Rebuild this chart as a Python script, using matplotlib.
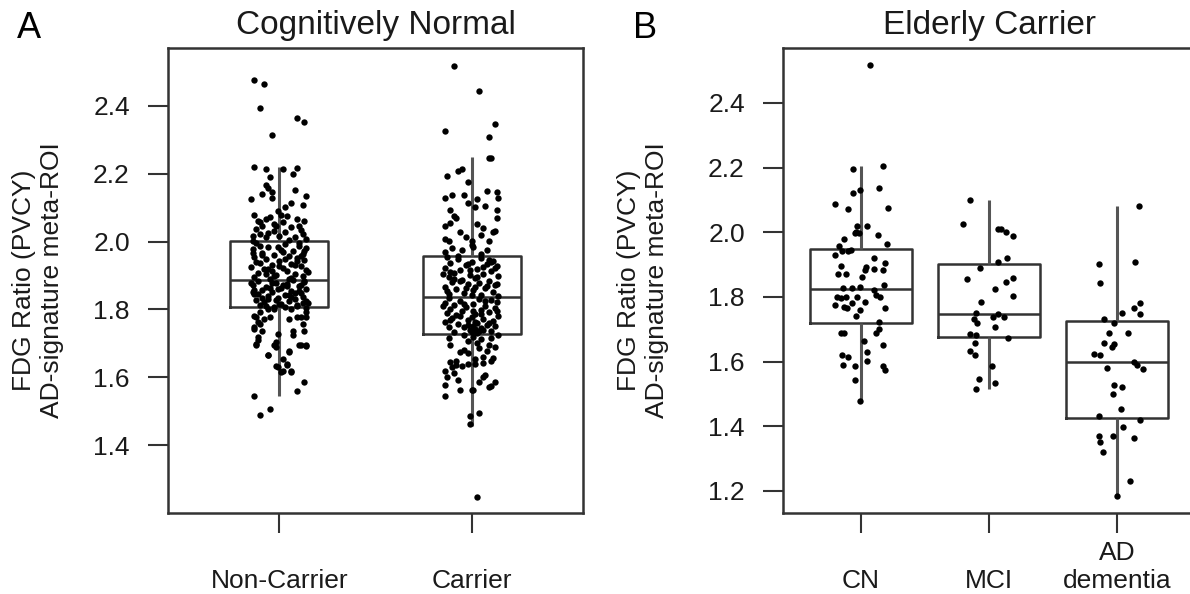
import matplotlib
matplotlib.use("Agg")
import matplotlib.pyplot as plt
import numpy as np

plt.rcParams['font.family'] = ['Liberation Sans', 'DejaVu Sans']
fontsize = 19
line_c = '#333333'
text_c = '#1a1a1a'

# ---------------- panel A: Cognitively Normal ----------------
groups_a = ['Non-Carrier', 'Carrier']
whislo_a = [1.545, 1.455]
q1_a = [1.806, 1.729]
med_a = [1.888, 1.838]
q3_a = [2.003, 1.959]
whishi_a = [2.219, 2.249]

# (jitter, value) pairs
nc_points = [
    (-0.13, 2.478), (-0.08, 2.466), (-0.10, 2.395), (0.09, 2.364), (0.13, 2.353), (-0.04, 2.313),
    (-0.05, 1.508), (-0.10, 1.488),
    (-0.13, 2.219), (-0.07, 2.213), (0.02, 2.214), (0.09, 2.217),
    (-0.13, 1.546), (0.09, 1.561), (0.13, 1.586),
    (0.07, 2.199), (-0.05, 2.191), (-0.07, 2.168), (-0.06, 2.158), (-0.09, 2.140), (-0.04, 2.145),
    (-0.15, 2.127), (0.08, 2.152), (0.14, 2.135), (0.12, 2.109), (-0.04, 2.130), (0.03, 2.101),
    (0.01, 2.079), (0.04, 2.076), (-0.13, 2.079), (-0.07, 2.067), (-0.09, 2.047), (-0.03, 2.052),
    (-0.03, 2.032), (-0.12, 2.037), (-0.14, 2.018), (0.06, 2.042), (0.10, 2.047), (0.12, 2.022),
    (-0.10, 2.022), (-0.07, 2.013), (0.00, 2.018), (0.08, 2.013), (-0.14, 2.003), (0.14, 2.008),
    (0.03, 2.027), (-0.10, 2.057), (-0.05, 2.072), (0.09, 2.067), (0.05, 2.005), (-0.02, 2.045),
    (0.11, 2.035), (-0.11, 2.062), (0.02, 2.058), (-0.06, 2.025), (0.13, 2.060), (-0.01, 2.090),
    (0.06, 2.115),
    (-0.12, 1.995), (0.03, 1.992), (0.10, 1.988), (-0.06, 1.985), (0.14, 1.981), (-0.14, 1.978),
    (0.01, 1.975), (0.07, 1.971), (-0.09, 1.968), (0.12, 1.965), (-0.03, 1.962), (0.05, 1.958),
    (-0.13, 1.955), (0.09, 1.952), (-0.07, 1.948), (0.13, 1.945), (0.00, 1.942), (-0.10, 1.938),
    (0.06, 1.935), (-0.04, 1.932), (0.11, 1.928), (-0.15, 1.925), (0.02, 1.922), (-0.08, 1.918),
    (0.14, 1.915), (0.04, 1.912), (-0.11, 1.908), (0.08, 1.905), (-0.02, 1.902), (0.12, 1.899),
    (-0.13, 1.896), (0.06, 1.893), (-0.05, 1.890), (0.10, 1.996), (-0.01, 1.983), (0.13, 1.973),
    (-0.09, 1.960), (0.03, 1.950), (-0.12, 1.940), (0.08, 1.930), (-0.06, 1.920), (0.15, 1.910),
    (-0.03, 1.900), (0.05, 1.891), (-0.14, 1.966), (0.11, 1.957), (0.00, 1.927), (-0.07, 1.906),
    (0.09, 1.944), (-0.10, 1.986), (0.02, 1.969), (-0.04, 1.914),
    (0.07, 1.886), (-0.11, 1.883), (0.13, 1.880), (-0.02, 1.878), (0.04, 1.875), (-0.14, 1.872),
    (0.10, 1.869), (-0.07, 1.866), (0.01, 1.863), (0.14, 1.860), (-0.09, 1.857), (0.06, 1.854),
    (-0.04, 1.851), (0.11, 1.848), (-0.13, 1.845), (0.03, 1.842), (-0.06, 1.839), (0.12, 1.836),
    (-0.01, 1.833), (0.08, 1.830), (-0.12, 1.827), (0.05, 1.824), (-0.08, 1.821), (0.15, 1.818),
    (0.00, 1.815), (-0.10, 1.812), (0.09, 1.809), (-0.03, 1.807), (0.13, 1.884), (-0.15, 1.877),
    (0.02, 1.871), (-0.05, 1.862), (0.10, 1.855), (-0.11, 1.846), (0.06, 1.838), (-0.02, 1.829),
    (0.12, 1.820), (-0.07, 1.811), (0.04, 1.868), (-0.13, 1.858), (0.08, 1.849), (-0.09, 1.834),
    (0.14, 1.826), (0.01, 1.817), (-0.04, 1.879), (0.11, 1.873), (-0.14, 1.852), (0.05, 1.843),
    (-0.06, 1.831), (0.09, 1.814), (-0.01, 1.859), (0.03, 1.808),
    (-0.02, 1.632), (0.02, 1.619), (0.06, 1.619), (0.04, 1.639), (-0.06, 1.666), (0.05, 1.679),
    (0.10, 1.694), (0.14, 1.696), (-0.03, 1.694), (-0.02, 1.704), (-0.12, 1.699), (-0.11, 1.709),
    (0.07, 1.738), (-0.13, 1.743), (-0.11, 1.762), (-0.08, 1.772), (0.05, 1.772), (0.11, 1.777),
    (0.14, 1.792), (-0.13, 1.782), (-0.10, 1.792), (-0.06, 1.801), (-0.03, 1.800), (0.06, 1.801),
    (0.14, 1.803), (-0.12, 1.777), (-0.10, 1.758), (-0.13, 1.748), (-0.09, 1.738), (-0.11, 1.719),
    (-0.12, 1.694), (0.09, 1.777), (0.12, 1.758), (0.14, 1.777), (0.13, 1.738), (0.07, 1.724),
    (-0.06, 1.665), (-0.02, 1.689), (0.05, 1.675), (0.02, 1.655), (0.04, 1.635), (-0.01, 1.630),
    (0.01, 1.616), (0.06, 1.616), (0.11, 1.694), (0.14, 1.691), (-0.01, 1.728), (-0.05, 1.777),
]

car_points = [
    (-0.09, 2.518), (0.04, 2.444), (0.12, 2.348), (-0.14, 2.326), (0.09, 2.309),
    (0.09, 2.248), (0.10, 2.246),
    (-0.05, 2.214), (-0.07, 2.207), (-0.13, 2.194), (-0.02, 2.177), (-0.14, 2.130), (-0.10, 2.138),
    (-0.04, 2.138), (0.08, 2.148), (0.13, 2.145), (0.14, 2.130), (0.03, 2.125), (0.02, 2.101),
    (0.07, 2.106), (0.13, 2.093), (-0.11, 2.093), (-0.09, 2.076), (-0.08, 2.071), (0.13, 2.071),
    (0.03, 2.052), (-0.14, 2.047), (-0.06, 2.027), (0.05, 2.021), (0.11, 2.027), (-0.14, 2.008),
    (-0.12, 2.003), (-0.03, 2.013), (0.00, 2.001), (0.09, 2.003), (0.12, 2.032), (-0.10, 1.981),
    (0.01, 1.983), (0.08, 1.975), (-0.05, 1.974), (-0.14, 1.969), (0.05, 1.964), (-0.02, 2.115),
    (0.06, 2.040), (-0.11, 2.055), (0.00, 1.990),
    (-0.13, 1.955), (0.05, 1.951), (-0.07, 1.948), (0.11, 1.944), (0.00, 1.941), (-0.11, 1.937),
    (0.08, 1.934), (-0.03, 1.930), (0.13, 1.927), (-0.14, 1.923), (0.03, 1.920), (-0.06, 1.916),
    (0.10, 1.913), (-0.09, 1.909), (0.06, 1.906), (-0.01, 1.902), (0.14, 1.899), (-0.12, 1.895),
    (0.02, 1.892), (-0.05, 1.888), (0.09, 1.885), (-0.10, 1.881), (0.04, 1.878), (-0.02, 1.874),
    (0.12, 1.871), (-0.14, 1.867), (0.07, 1.864), (-0.08, 1.860), (0.01, 1.857), (0.11, 1.853),
    (-0.04, 1.850), (-0.12, 1.846), (0.05, 1.843), (0.14, 1.840), (-0.07, 1.957), (0.09, 1.946),
    (-0.02, 1.935), (0.12, 1.921), (-0.11, 1.911), (0.03, 1.897), (-0.06, 1.883), (0.08, 1.869),
    (-0.13, 1.855), (0.00, 1.844), (0.06, 1.925), (-0.09, 1.890), (0.13, 1.876), (-0.03, 1.862),
    (0.10, 1.939), (-0.15, 1.904), (0.02, 1.866), (-0.01, 1.917),
    (-0.12, 1.835), (0.04, 1.832), (0.10, 1.829), (-0.06, 1.826), (0.13, 1.823), (-0.14, 1.820),
    (0.01, 1.817), (-0.09, 1.814), (0.07, 1.811), (-0.03, 1.808), (0.12, 1.805), (-0.11, 1.802),
    (0.05, 1.799), (-0.05, 1.796), (0.09, 1.793), (-0.13, 1.790), (0.02, 1.787), (-0.08, 1.784),
    (0.14, 1.781), (0.00, 1.778), (-0.10, 1.775), (0.06, 1.772), (-0.02, 1.769), (0.11, 1.766),
    (-0.14, 1.763), (0.03, 1.760), (-0.07, 1.757), (0.08, 1.754), (0.01, 1.751), (-0.12, 1.748),
    (0.05, 1.745), (0.02, 1.742), (-0.01, 1.739), (0.04, 1.736), (0.00, 1.733), (0.03, 1.731),
    (-0.04, 1.747), (0.06, 1.740), (-0.09, 1.733), (0.10, 1.737), (0.13, 1.795), (-0.15, 1.809),
    (0.07, 1.824), (-0.04, 1.815), (0.09, 1.760), (-0.11, 1.770), (0.01, 1.797), (-0.06, 1.781),
    (0.12, 1.752), (0.02, 1.764), (-0.02, 1.755), (0.05, 1.786),
    (-0.12, 1.716), (-0.11, 1.696), (0.10, 1.716), (0.14, 1.726), (0.09, 1.694), (-0.06, 1.676),
    (-0.04, 1.682), (-0.02, 1.672), (0.04, 1.686), (0.08, 1.678), (0.11, 1.658), (-0.11, 1.645),
    (-0.08, 1.636), (-0.05, 1.634), (-0.02, 1.639), (0.02, 1.640), (0.06, 1.643), (0.10, 1.648),
    (-0.14, 1.619), (-0.09, 1.614), (-0.07, 1.592), (0.06, 1.602), (0.07, 1.607), (-0.14, 1.577),
    (-0.06, 1.562), (0.10, 1.573), (0.09, 1.570), (0.04, 1.587), (0.00, 1.562), (0.01, 1.563),
    (-0.14, 1.545), (-0.01, 1.485), (0.04, 1.496), (-0.01, 1.461), (0.01, 1.719), (-0.02, 1.708),
    (0.03, 1.700), (0.05, 1.712), (-0.04, 1.725), (0.06, 1.660), (-0.08, 1.648), (0.02, 1.654),
    (0.12, 1.690), (-0.13, 1.600), (0.12, 1.585), (-0.10, 1.630),
    (0.03, 1.248),
]

# ---------------- panel B: Elderly Carrier ----------------
groups_b = ['CN', 'MCI', 'AD\ndementia']
whislo_b = [1.476, 1.514, 1.186]
q1_b = [1.721, 1.677, 1.425]
med_b = [1.824, 1.747, 1.600]
q3_b = [1.947, 1.901, 1.727]
whishi_b = [2.205, 2.100, 2.082]

cn_points = [
    (0.07, 2.518), (0.17, 2.205), (-0.06, 2.195), (0.14, 2.138), (-0.01, 2.131), (-0.06, 2.123),
    (0.21, 2.076), (-0.20, 2.088), (-0.10, 2.071), (0.05, 2.020), (-0.03, 2.018), (-0.04, 2.002),
    (-0.05, 1.997), (-0.02, 1.997), (0.13, 1.992), (-0.13, 1.978), (-0.17, 1.958), (0.20, 1.964),
    (-0.10, 1.943), (-0.08, 1.945), (-0.15, 1.943), (-0.20, 1.930), (0.10, 1.919), (0.19, 1.906),
    (-0.16, 1.897), (0.03, 1.884), (0.04, 1.894), (0.17, 1.884), (0.10, 1.886), (-0.18, 1.870),
    (-0.12, 1.870), (0.01, 1.861), (0.18, 1.837), (0.10, 1.822), (-0.14, 1.827), (-0.07, 1.827),
    (-0.01, 1.830), (-0.19, 1.799), (-0.16, 1.796), (-0.12, 1.801), (0.12, 1.806), (0.15, 1.799),
    (-0.03, 1.801), (-0.20, 1.775), (-0.13, 1.770), (-0.11, 1.765), (-0.07, 1.780), (0.03, 1.786),
    (-0.01, 1.760), (-0.04, 1.741), (0.19, 1.767), (0.14, 1.724), (0.14, 1.700), (0.12, 1.688),
    (-0.16, 1.690), (-0.13, 1.688), (0.02, 1.665), (0.17, 1.652), (0.05, 1.631), (-0.15, 1.621),
    (-0.10, 1.615), (0.05, 1.603), (-0.14, 1.590), (-0.05, 1.587), (0.17, 1.585), (0.19, 1.574),
    (-0.05, 1.543), (-0.01, 1.478),
]

mci_points = [
    (-0.15, 2.100), (-0.20, 2.025), (0.07, 2.011), (0.09, 2.009), (0.13, 2.000), (0.19, 1.990),
    (0.14, 1.920), (0.07, 1.909), (-0.07, 1.891), (-0.17, 1.857), (0.19, 1.859), (0.13, 1.846),
    (0.05, 1.826), (0.19, 1.803), (-0.06, 1.783), (-0.10, 1.749), (-0.12, 1.731), (-0.09, 1.721),
    (0.03, 1.739), (0.07, 1.747), (0.12, 1.737), (0.05, 1.706), (-0.15, 1.686), (-0.10, 1.681),
    (0.15, 1.674), (-0.11, 1.659), (-0.15, 1.633), (-0.11, 1.621), (0.02, 1.587), (-0.08, 1.545),
    (0.05, 1.535), (-0.10, 1.516),
]

ad_points = [
    (0.17, 2.082), (-0.14, 1.902), (0.14, 1.909), (-0.13, 1.844), (0.18, 1.780), (0.13, 1.767),
    (0.18, 1.746), (0.04, 1.749), (-0.10, 1.731), (-0.02, 1.721), (-0.06, 1.688), (0.09, 1.688),
    (-0.10, 1.659), (-0.02, 1.655), (-0.04, 1.644), (-0.18, 1.624), (-0.13, 1.621), (0.13, 1.600),
    (0.16, 1.590), (0.20, 1.576), (-0.08, 1.579), (-0.02, 1.527), (0.04, 1.523), (-0.03, 1.500),
    (0.03, 1.453), (-0.14, 1.432), (0.18, 1.420), (0.05, 1.397), (-0.14, 1.370), (-0.13, 1.353),
    (-0.03, 1.370), (0.13, 1.365), (-0.11, 1.322), (0.10, 1.231), (0.00, 1.186),
]

ylab = 'FDG Ratio (PVCY)\nAD-signature meta-ROI'


def draw_panel(ax, labels, lo, q1, med, q3, hi, point_sets, width, title):
    stats = [dict(whislo=a, q1=b, med=c, q3=d, whishi=e, fliers=[])
             for a, b, c, d, e in zip(lo, q1, med, q3, hi)]
    pos = np.arange(1, len(labels) + 1)
    ax.bxp(stats, positions=pos, widths=width, showcaps=False, showfliers=False,
           boxprops=dict(color=line_c, linewidth=1.8),
           medianprops=dict(color=line_c, linewidth=1.8),
           whiskerprops=dict(color='#555555', linewidth=2.2, solid_capstyle='butt'))
    for p, pts in zip(pos, point_sets):
        jit, vals = zip(*pts)
        ax.scatter(p + np.array(jit), vals, s=21, c='black', linewidths=0, zorder=3)
    ax.set_xticks(pos)
    ax.set_xticklabels(labels)
    ax.set_title(title, fontsize=24, pad=10, color=text_c)
    ax.set_ylabel(ylab, fontsize=fontsize, color=text_c, linespacing=1.2)
    ax.tick_params(axis='both', direction='out', length=14.5, width=1.5,
                   colors=line_c, labelcolor=text_c, labelsize=fontsize)
    ax.tick_params(axis='y', pad=13)
    ax.tick_params(axis='x', pad=43)
    plt.setp(ax.get_xticklabels(), va='bottom')
    ax.yaxis.set_major_formatter(matplotlib.ticker.FormatStrFormatter('%.1f'))
    for sp in ax.spines.values():
        sp.set_color(line_c)
        sp.set_linewidth(1.8)


fig = plt.figure(figsize=(11.9, 5.94), dpi=100)
ax1 = fig.add_axes([0.1412, 0.1364, 0.3487, 0.7828])
ax2 = fig.add_axes([0.6580, 0.1364, 0.3462, 0.7828])

draw_panel(ax1, groups_a, whislo_a, q1_a, med_a, q3_a, whishi_a,
           [nc_points, car_points], 0.51, 'Cognitively Normal')
ax1.set_xlim(0.42, 2.58)
ax1.set_ylim(1.2, 2.571)
ax1.set_yticks([1.4, 1.6, 1.8, 2.0, 2.2, 2.4])
ax1.yaxis.set_label_coords(-0.25, 0.5)

draw_panel(ax2, groups_b, whislo_b, q1_b, med_b, q3_b, whishi_b,
           [cn_points, mci_points, ad_points], 0.80, 'Elderly Carrier')
ax2.set_xlim(0.39, 3.61)
ax2.set_ylim(1.132, 2.570)
ax2.set_yticks([1.2, 1.4, 1.6, 1.8, 2.0, 2.2, 2.4])
ax2.yaxis.set_label_coords(-0.277, 0.5)

fig.text(17 / 1190, 1 - 38 / 594, 'A', fontsize=26, va='baseline', color='black')
fig.text(633 / 1190, 1 - 38 / 594, 'B', fontsize=26, va='baseline', color='black')

fig.savefig('out.png', dpi=100)
